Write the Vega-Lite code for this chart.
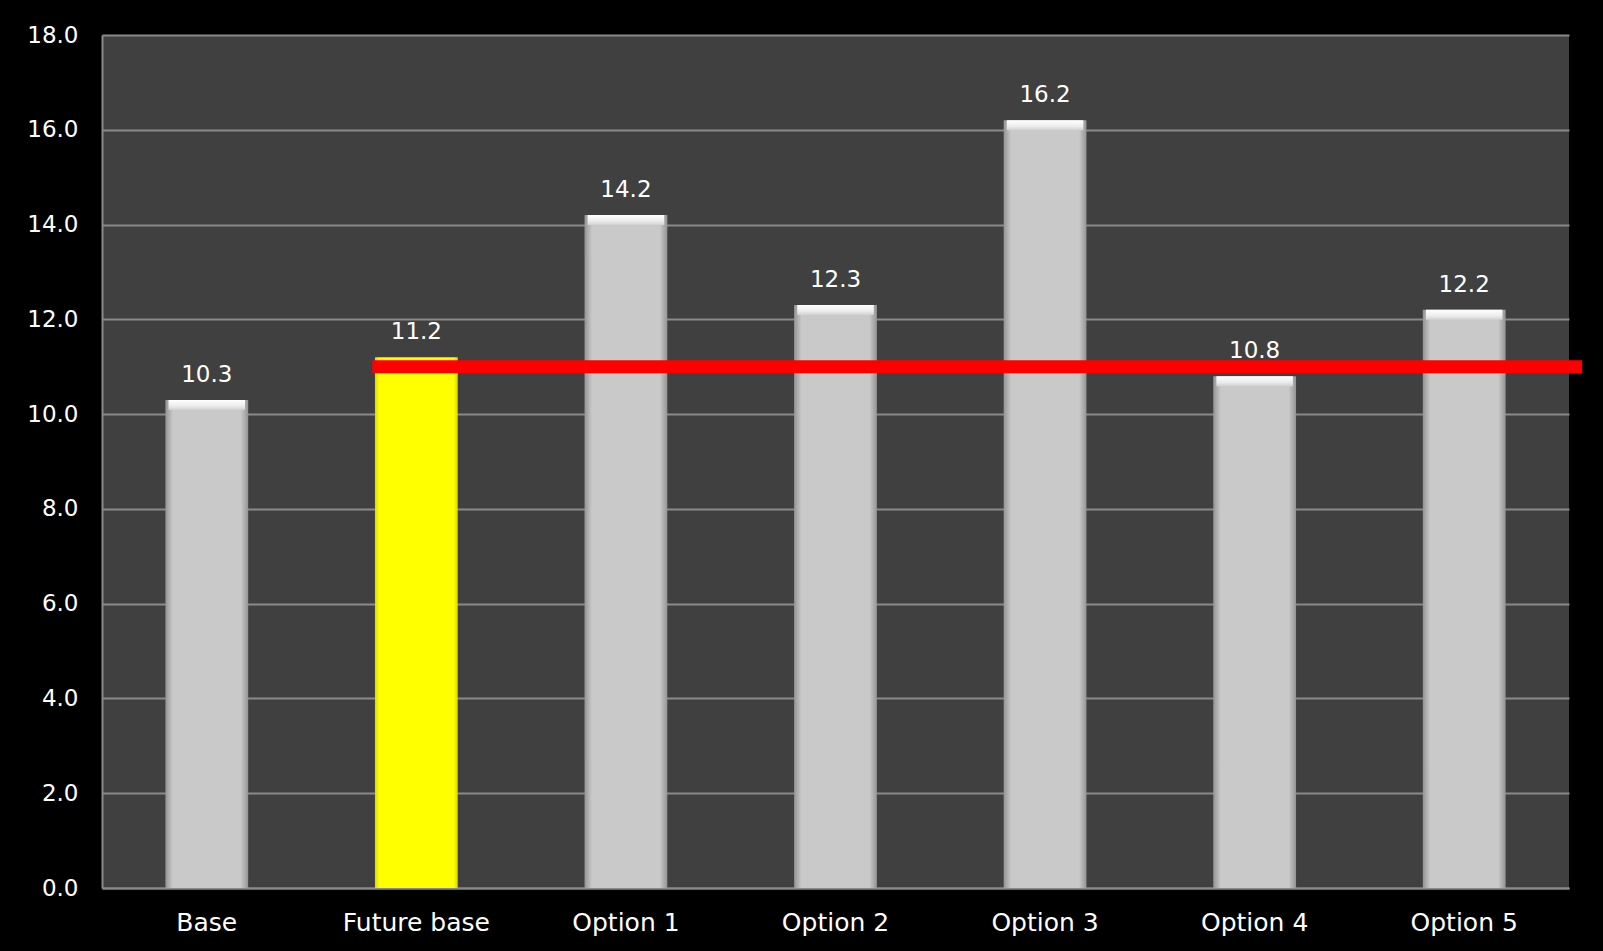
{
  "$schema": "https://vega.github.io/schema/vega-lite/v6.json",
  "autosize": "none",
  "width": 1467,
  "height": 853,
  "padding": {"left": 102, "top": 35, "right": 34, "bottom": 63},
  "background": "#000000",
  "config": {
    "view": {"fill": "#404040", "stroke": null},
    "font": "DejaVu Sans",
    "axis": {"labelFont": "DejaVu Sans", "labelColor": "#ffffff", "labelFontSize": 23, "ticks": false, "domainColor": "#8a8a8a", "domainWidth": 2, "gridColor": "#8a8a8a", "gridWidth": 2, "title": null}
  },
  "datasets": {
    "bars": [
      {"cat": "Base", "value": 10.3},
      {"cat": "Future base", "value": 11.2},
      {"cat": "Option 1", "value": 14.2},
      {"cat": "Option 2", "value": 12.3},
      {"cat": "Option 3", "value": 16.2},
      {"cat": "Option 4", "value": 10.8},
      {"cat": "Option 5", "value": 12.2}
    ],
    "target": [
      {"target": 11.0, "from": "Future base", "to": "Option 5"}
    ]
  },
  "layer": [
    {
      "data": {"name": "bars"},
      "mark": {"type": "bar", "width": {"band": 0.395}},
      "encoding": {
        "x": {"field": "cat", "type": "nominal", "sort": null,
          "scale": {"domain": ["Base", "Future base", "Option 1", "Option 2", "Option 3", "Option 4", "Option 5"], "paddingInner": 0, "paddingOuter": 0},
          "axis": {"labelAngle": 0, "labelPadding": 22, "labelFontSize": 25, "domain": true}},
        "y": {"field": "value", "type": "quantitative",
          "scale": {"domain": [0, 18], "nice": false},
          "axis": {"values": [0, 2, 4, 6, 8, 10, 12, 14, 16, 18], "format": ".1f", "labelPadding": 24, "grid": true}},
        "color": {
          "condition": {"test": "datum.cat === 'Future base'", "value": {"gradient": "linear", "x1": 0, "x2": 1, "y1": 0, "y2": 0, "stops": [{"offset": 0, "color": "#d8d800"}, {"offset": 0.05, "color": "#ffff00"}, {"offset": 0.95, "color": "#ffff00"}, {"offset": 1, "color": "#d8d800"}]}},
          "value": {"gradient": "linear", "x1": 0, "x2": 1, "y1": 0, "y2": 0, "stops": [{"offset": 0, "color": "#949494"}, {"offset": 0.09, "color": "#c9c9c9"}, {"offset": 0.91, "color": "#c9c9c9"}, {"offset": 1, "color": "#949494"}]}
        }
      }
    },
    {
      "data": {"name": "bars"},
      "transform": [{"filter": "datum.cat !== 'Future base'"}],
      "mark": {"type": "bar", "width": {"band": 0.365}, "y2Offset": 10,
        "fill": {"gradient": "linear", "x1": 0, "x2": 0, "y1": 0, "y2": 1, "stops": [{"offset": 0, "color": "#ffffff"}, {"offset": 0.6, "color": "#ececec"}, {"offset": 1, "color": "#d0d0d0"}]}},
      "encoding": {
        "x": {"field": "cat", "type": "nominal", "sort": null},
        "y": {"field": "value", "type": "quantitative"},
        "y2": {"field": "value"}
      }
    },
    {
      "data": {"name": "bars"},
      "mark": {"type": "text", "color": "#ffffff", "fontSize": 23, "baseline": "alphabetic", "dy": -18, "font": "DejaVu Sans"},
      "encoding": {
        "x": {"field": "cat", "type": "nominal", "sort": null},
        "y": {"field": "value", "type": "quantitative"},
        "text": {"field": "value", "type": "quantitative", "format": ".1f"}
      }
    },
    {
      "data": {"name": "target"},
      "mark": {"type": "rule", "color": "#ff0000", "strokeWidth": 13, "x2Offset": 118},
      "encoding": {
        "x": {"field": "from", "type": "nominal", "bandPosition": 0.29},
        "x2": {"field": "to"},
        "y": {"field": "target", "type": "quantitative"}
      }
    }
  ]
}
